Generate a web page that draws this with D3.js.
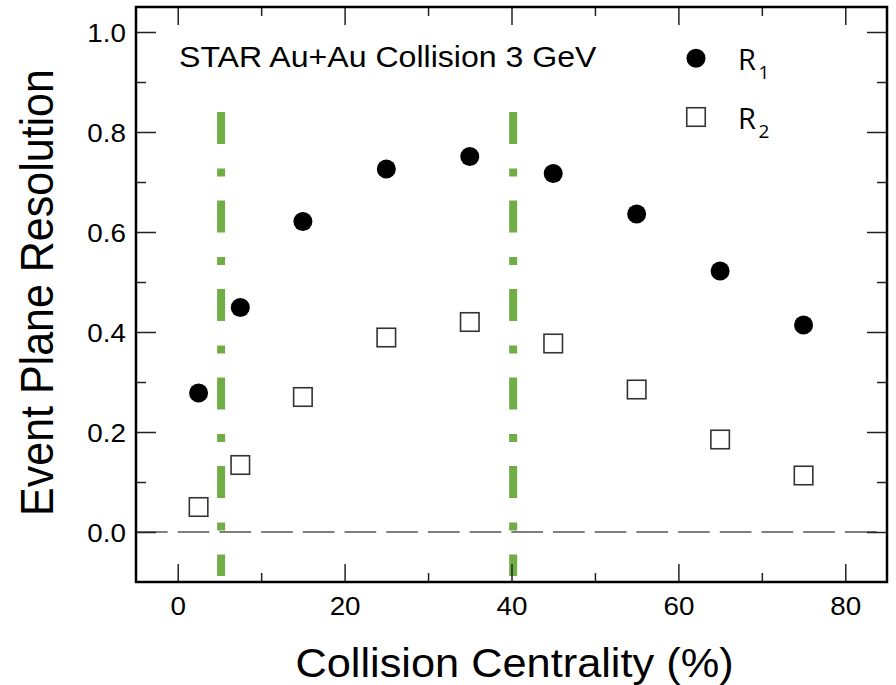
<!DOCTYPE html>
<html>
<head>
<meta charset="utf-8">
<script src="https://cdn.jsdelivr.net/npm/d3@7"></script>
<style>
	html, body { margin: 0; padding: 0; background: #fff; }
	svg { display: block; }
	text { font-family: "Liberation Sans", Arial, Helvetica, sans-serif; fill: #000; }
	.legend text { font-family: "Open Sans", "Noto Sans", sans-serif; }
</style>
</head>
<body>
<svg id="chart" width="896" height="685"></svg>
<script>
// centrality bins (%) and the two resolutions
var centrality = [2.5, 7.5, 15, 25, 35, 45, 55, 65, 75];
var r1 = [0.278, 0.449, 0.621, 0.726, 0.751, 0.717, 0.636, 0.522, 0.414];
var r2 = [0.050, 0.134, 0.270, 0.389, 0.420, 0.377, 0.285, 0.185, 0.113];

// green dash-dot cut lines (centrality) and their vertical extent
var cutLines = [5.2, 40.2];
var cutRange = [0.84, -0.088];

// ticks
var xTicks = [0, 20, 40, 60, 80];
var xMinor = [10, 30, 50, 70];
var yTicks = [0.0, 0.2, 0.4, 0.6, 0.8, 1.0];
var yMinor = [0.1, 0.3, 0.5, 0.7, 0.9];

var legendItems = [
	{name: "R", sub: "1", series: "r1"},
	{name: "R", sub: "2", series: "r2"}
];

var stretch = 1.07; // the source picture is a bit wider than tall
var m = {l: 136, r: 9, t: 7, b: 103};
var W = 896, H = 685;

var svg = d3.select("#chart");

var x = d3.scaleLinear().domain([-5, 85]).range([m.l, W - m.r]);
var y = d3.scaleLinear().domain([-0.1, 1.05]).range([H - m.b, m.t]);

var pts = centrality.map(function(c, i){ return {c: c, r1: r1[i], r2: r2[i]}; });

// dashed zero line
svg.append("line")
	.attr("x1", x(-5)).attr("x2", x(85))
	.attr("y1", y(0)).attr("y2", y(0))
	.attr("stroke", "#555")
	.attr("stroke-width", 1.6)
	.attr("stroke-dasharray", "31.7,10");

// cut lines
svg.selectAll(".cut").data(cutLines).enter()
	.append("line").attr("class", "cut")
	.attr("x1", function(d){ return x(d); })
	.attr("x2", function(d){ return x(d); })
	.attr("y1", y(cutRange[0]))
	.attr("y2", y(cutRange[1]))
	.attr("stroke", "#70ad47")
	.attr("stroke-width", 8)
	.attr("stroke-dasharray", "32,24.5,8,24");

// R2 open squares
var sq = 18.5;
svg.selectAll(".r2").data(pts).enter()
	.append("rect").attr("class", "r2")
	.attr("x", function(d){ return x(d.c) - sq / 2; })
	.attr("y", function(d){ return y(d.r2) - sq / 2; })
	.attr("width", sq).attr("height", sq)
	.attr("fill", "#fff")
	.attr("stroke", "#333")
	.attr("stroke-width", 1.6);

// R1 filled circles
svg.selectAll(".r1").data(pts).enter()
	.append("circle").attr("class", "r1")
	.attr("cx", function(d){ return x(d.c); })
	.attr("cy", function(d){ return y(d.r1); })
	.attr("r", 9.5)
	.attr("fill", "#000");

///////////////////////////
// axes, ticks pointing inward on all four sides
///////////////////////////
function styleAxis(g){
	g.select(".domain").remove();
	g.selectAll(".tick line").attr("stroke", "#222").attr("stroke-width", 1.5);
}

var gL = svg.append("g").attr("transform", "translate(" + x(-5) + ",0)")
	.call(d3.axisLeft(y).tickValues(yTicks).tickSize(-20).tickPadding(9.5)
		.tickFormat(d3.format(".1f")));
styleAxis(gL);
gL.selectAll(".tick text")
	.attr("font-size", 26)
	.attr("font-family", "'Liberation Sans', Arial, Helvetica, sans-serif")
	.attr("dy", "0.38em")
	.attr("transform", "scale(" + stretch + ",1)");

svg.append("g").attr("transform", "translate(" + x(-5) + ",0)")
	.call(d3.axisLeft(y).tickValues(yMinor).tickSize(-10).tickFormat(""))
	.call(styleAxis);

svg.append("g").attr("transform", "translate(" + x(85) + ",0)")
	.call(d3.axisRight(y).tickValues(yTicks).tickSize(-20).tickFormat(""))
	.call(styleAxis);
svg.append("g").attr("transform", "translate(" + x(85) + ",0)")
	.call(d3.axisRight(y).tickValues(yMinor).tickSize(-10).tickFormat(""))
	.call(styleAxis);

var gB = svg.append("g").attr("transform", "translate(0," + y(-0.1) + ")")
	.call(d3.axisBottom(x).tickValues(xTicks).tickSize(-18).tickPadding(14.5));
styleAxis(gB);
gB.selectAll(".tick text")
	.attr("font-size", 26)
	.attr("font-family", "'Liberation Sans', Arial, Helvetica, sans-serif")
	.attr("transform", "scale(" + stretch + ",1)");

svg.append("g").attr("transform", "translate(0," + y(-0.1) + ")")
	.call(d3.axisBottom(x).tickValues(xMinor).tickSize(-9).tickFormat(""))
	.call(styleAxis);

svg.append("g").attr("transform", "translate(0," + y(1.05) + ")")
	.call(d3.axisTop(x).tickValues(xTicks).tickSize(-18).tickFormat(""))
	.call(styleAxis);
svg.append("g").attr("transform", "translate(0," + y(1.05) + ")")
	.call(d3.axisTop(x).tickValues(xMinor).tickSize(-9).tickFormat(""))
	.call(styleAxis);

// frame
svg.append("rect")
	.attr("x", x(-5)).attr("y", y(1.05))
	.attr("width", x(85) - x(-5))
	.attr("height", y(-0.1) - y(1.05))
	.attr("fill", "none")
	.attr("stroke", "#000")
	.attr("stroke-width", 2.5);

// axis titles
svg.append("text")
	.attr("transform", "translate(514.5,677) scale(" + stretch + ",1)")
	.attr("text-anchor", "middle")
	.attr("font-size", 40.5)
	.text("Collision Centrality (%)");

svg.append("text")
	.attr("transform", "translate(53.3,292.5) scale(" + stretch + ",1) rotate(-90)")
	.attr("text-anchor", "middle")
	.attr("font-size", 43)
	.text("Event Plane Resolution");

// label
svg.append("text")
	.attr("transform", "translate(179,66.7) scale(" + stretch + ",1)")
	.attr("font-size", 30)
	.text("STAR Au+Au Collision 3 GeV");

///////////////////////////
// legend
///////////////////////////
var leg = svg.append("g").attr("class", "legend");
var legY = d3.scaleOrdinal().domain(["r1", "r2"]).range([58.3, 117]);

legendItems.forEach(function(d){
	var cy = legY(d.series);
	if (d.series == "r1") {
		leg.append("circle").attr("cx", 696).attr("cy", cy).attr("r", 9.5).attr("fill", "#000");
	} else {
		leg.append("rect").attr("x", 696 - sq / 2).attr("y", cy - sq / 2)
			.attr("width", sq).attr("height", sq)
			.attr("fill", "#fff").attr("stroke", "#333").attr("stroke-width", 1.6);
	}
	leg.append("text").attr("x", 738).attr("y", cy + 11.5)
		.attr("font-size", 29).text(d.name);
	leg.append("text").attr("x", 758.5).attr("y", cy + 20.5)
		.attr("font-size", 19).text(d.sub);
});
</script>
</body>
</html>
